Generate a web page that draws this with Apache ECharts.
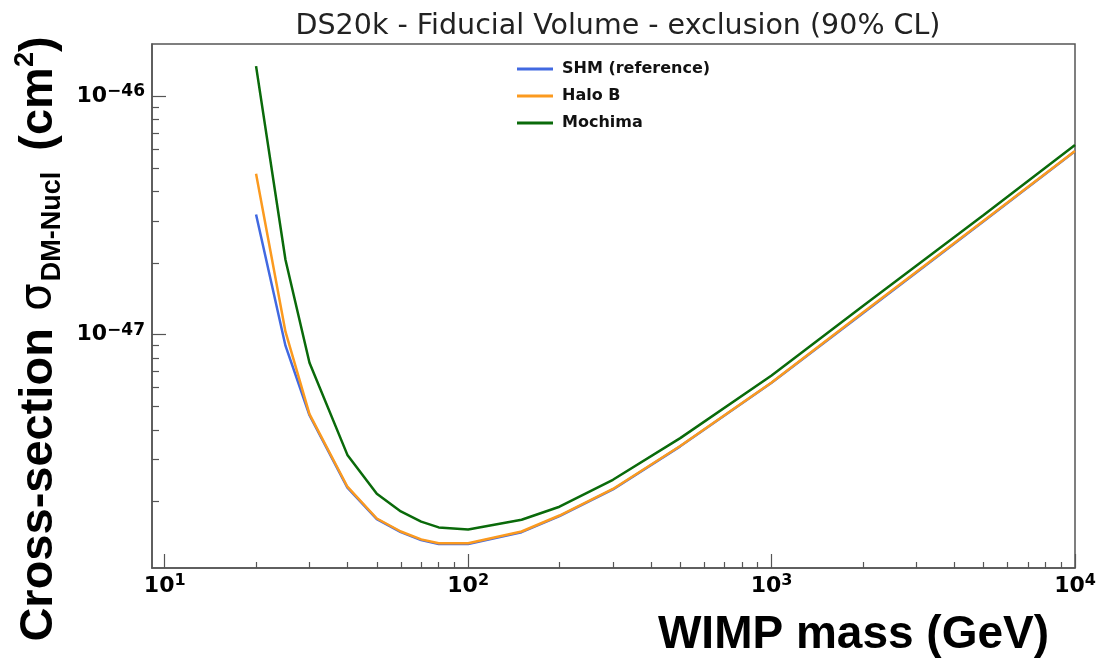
<!DOCTYPE html>
<html>
<head>
<meta charset="utf-8">
<script src="https://cdn.jsdelivr.net/npm/echarts@6.0.0/dist/echarts.min.js"></script>
<style>
html,body{margin:0;padding:0;background:#fff;}
#chart{width:1111px;height:665px;}
</style>
</head>
<body>
<div id="chart"></div>
<script>
// WIMP mass (GeV)
const massGeV = [20, 25, 30, 40, 50, 60, 70, 80, 100, 150, 200, 300, 500, 1000, 2000, 5000, 10000];
// cross-section limits (cm^2)
const shmRef  = [3.19e-47, 9.0e-48, 4.60e-48, 2.29e-48, 1.69e-48, 1.49e-48, 1.38e-48, 1.33e-48, 1.33e-48, 1.49e-48, 1.74e-48, 2.25e-48, 3.41e-48, 6.30e-48, 1.23e-47, 2.99e-47, 5.87e-47];
const haloB   = [4.72e-47, 1.03e-47, 4.65e-48, 2.31e-48, 1.70e-48, 1.50e-48, 1.39e-48, 1.34e-48, 1.34e-48, 1.50e-48, 1.75e-48, 2.26e-48, 3.42e-48, 6.31e-48, 1.24e-47, 3.00e-47, 5.88e-47];
const mochima = [1.333e-46, 2.06e-47, 7.64e-48, 3.14e-48, 2.16e-48, 1.82e-48, 1.65e-48, 1.56e-48, 1.53e-48, 1.68e-48, 1.905e-48, 2.47e-48, 3.69e-48, 6.75e-48, 1.32e-47, 3.17e-47, 6.23e-47];
const seriesNames = ['SHM (reference)', 'Halo B', 'Mochima'];
// tick values (decades)
const xMajorTicks = [10, 100, 1000, 10000];
const xMinorTicks = [20,30,40,50,60,70,80,90, 200,300,400,500,600,700,800,900, 2000,3000,4000,5000,6000,7000,8000,9000];
const yMajorTicks = [1e-47, 1e-46];
const yMinorTicks = [2e-48,3e-48,4e-48,5e-48,6e-48,7e-48,8e-48,9e-48, 2e-47,3e-47,4e-47,5e-47,6e-47,7e-47,8e-47,9e-47];
const xRange = [9.08, 10000];
const yRange = [1.055e-48, 1.65e-46];

const L = Math.log10;
const pts = arr => massGeV.map((m, i) => [L(m), L(arr[i])]);
const axisColor = '#555';

const xBase = {
  type: 'value', min: L(xRange[0]), max: L(xRange[1]),
  splitLine: {show: false}
};
const yBase = {
  type: 'value', min: L(yRange[0]), max: L(yRange[1]),
  splitLine: {show: false}
};

const supRich = {
  b: {fontFamily: 'DejaVu Sans', fontWeight: 'bold', fontSize: 22, lineHeight: 26, color: '#000'},
  s: {fontFamily: 'DejaVu Sans', fontWeight: 'bold', fontSize: 16, lineHeight: 16, verticalAlign: 'top', color: '#000'}
};

const chart = echarts.init(document.getElementById('chart'), null, {renderer: 'canvas'});
chart.setOption({
  animation: false,
  backgroundColor: '#fff',
  title: {
    text: 'DS20k - Fiducial Volume - exclusion (90% CL)',
    left: 613, top: 5, textAlign: 'center',
    textStyle: {fontFamily: 'DejaVu Sans', fontWeight: 'normal', fontSize: 28.5, color: '#222', lineHeight: 34}
  },
  legend: {
    orient: 'vertical', left: 512, top: 55,
    icon: 'rect', itemWidth: 36, itemHeight: 3, itemGap: 9,
    data: seriesNames,
    textStyle: {fontFamily: 'DejaVu Sans', fontWeight: 'bold', fontSize: 16, lineHeight: 18, color: '#111', padding: [0,0,0,4]}
  },
  grid: {left: 152, right: 36, top: 44, bottom: 93, show: true, borderColor: axisColor, borderWidth: 1.5, backgroundColor: 'transparent'},
  xAxis: [
    Object.assign({}, xBase, {
      position: 'bottom',
      axisLine: {show: true, lineStyle: {color: axisColor, width: 1.5}},
      axisTick: {show: true, inside: true, length: 14, lineStyle: {color: axisColor, width: 1.2}, customValues: xMajorTicks.map(L)},
      axisLabel: {show: true, margin: 5, customValues: xMajorTicks.map(L),
        formatter: v => '{b|10}{s|' + Math.round(v) + '}', rich: supRich},
      name: 'WIMP mass (GeV)', nameLocation: 'middle', nameGap: 42,
      nameTextStyle: {fontFamily: 'Liberation Sans', fontWeight: 'bold', fontSize: 46, lineHeight: 50, color: '#000', padding: [0, 0, 0, 480]}
    }),
    Object.assign({}, xBase, {
      position: 'bottom',
      axisLine: {show: false},
      axisTick: {show: true, inside: true, length: 6, lineStyle: {color: axisColor, width: 1.2}, customValues: xMinorTicks.map(L)},
      axisLabel: {show: false}
    })
  ],
  yAxis: [
    Object.assign({}, yBase, {
      position: 'left',
      axisLine: {show: true, lineStyle: {color: axisColor, width: 1.5}},
      axisTick: {show: true, inside: true, length: 14, lineStyle: {color: axisColor, width: 1.2}, customValues: yMajorTicks.map(L)},
      axisLabel: {show: true, margin: 7, customValues: yMajorTicks.map(L),
        formatter: v => '{b|10}{s|\u2212' + Math.abs(Math.round(v)) + '}', rich: Object.assign({}, supRich, {s: Object.assign({}, supRich.s, {fontSize: 17})})},
      name: '{t|Cross-section }{g|\u03c3}{sub|DM-Nucl}{t| (cm}{sup|2}{t|)}',
      nameLocation: 'middle', nameGap: 86, nameRotate: 90,
      nameTextStyle: {
        padding: [0, 66, 0, 0],
        rich: {
          t: {fontFamily: 'Liberation Sans', fontWeight: 'bold', fontSize: 47, lineHeight: 54, color: '#000'},
          g: {fontFamily: 'DejaVu Sans', fontWeight: 'normal', fontSize: 44, lineHeight: 54, color: '#000', padding: [0, 2, 0, 4]},
          sub: {fontFamily: 'Liberation Sans', fontWeight: 'bold', fontSize: 27, lineHeight: 27, verticalAlign: 'bottom', color: '#000', padding: [0, 8, 0, 0]},
          sup: {fontFamily: 'Liberation Sans', fontWeight: 'bold', fontSize: 27, lineHeight: 27, verticalAlign: 'top', color: '#000'}
        }
      }
    }),
    Object.assign({}, yBase, {
      position: 'left',
      axisLine: {show: false},
      axisTick: {show: true, inside: true, length: 7, lineStyle: {color: axisColor, width: 1.2}, customValues: yMinorTicks.map(L)},
      axisLabel: {show: false}
    })
  ],
  series: [
    {name: seriesNames[0], type: 'line', data: pts(shmRef), showSymbol: false, symbol: 'none', color: '#4169e1', lineStyle: {width: 2.5, color: '#4169e1'}, z: 2},
    {name: seriesNames[1], type: 'line', data: pts(haloB), showSymbol: false, symbol: 'none', color: '#fb9a1f', lineStyle: {width: 2.5, color: '#fb9a1f'}, z: 3},
    {name: seriesNames[2], type: 'line', data: pts(mochima), showSymbol: false, symbol: 'none', color: '#0a6a0a', lineStyle: {width: 2.5, color: '#0a6a0a'}, z: 4}
  ]
});
</script>
</body>
</html>
